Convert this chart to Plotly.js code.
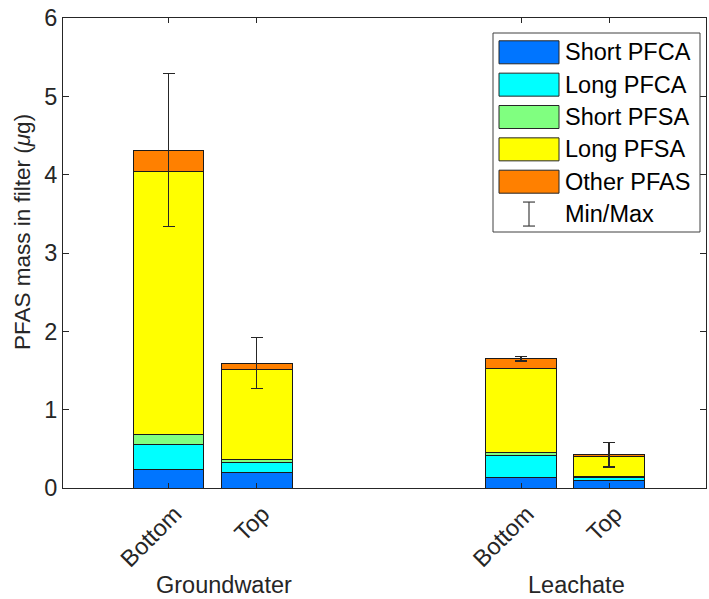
<!DOCTYPE html>
<html>
<head>
<meta charset="utf-8">
<script src="https://cdn.plot.ly/plotly-3.0.1.min.js"></script>
<style>html,body{margin:0;padding:0;background:#fff;}#chart{width:709px;height:599px;}</style>
</head>
<body>
<div id="chart"></div>
<script>
// ---- data ----
const groups = ['Groundwater', 'Groundwater', 'Leachate', 'Leachate'];
const positions = ['Bottom', 'Top', 'Bottom', 'Top'];
const groupNames = ['Groundwater', 'Leachate'];
const seriesNames = ['Short PFCA', 'Long PFCA', 'Short PFSA', 'Long PFSA', 'Other PFAS'];
const shortPFCA = [0.24, 0.20, 0.14, 0.10];
const longPFCA  = [0.32, 0.13, 0.27, 0.04];
const shortPFSA = [0.12, 0.04, 0.04, 0.01];
const longPFSA  = [3.36, 1.14, 1.08, 0.25];
const otherPFAS = [0.27, 0.08, 0.12, 0.03];
const minVals = [3.34, 1.27, 1.62, 0.27];
const maxVals = [5.29, 1.92, 1.68, 0.58];
const yTickVals = [0, 1, 2, 3, 4, 5, 6];

// ---- styling ----
const colors = ['#0075FF', '#00FFFF', '#80FF80', '#FFFF00', '#FF8000'];
const FONT = 'Liberation Sans, Arial, sans-serif';
const TXT = '#262626';
const FS = 23.5;
const W = 709, H = 599;
const M = {l: 63, r: 3, t: 18, b: 111};
const PW = W - M.l - M.r, PH = H - M.t - M.b;
const px2x = p => (p - M.l) / PW;
const py2y = p => (H - M.b - p) / PH;

// x positions: two bars per group, groups separated by a gap
const xs = groups.map((g, i) => groupNames.indexOf(g) * 4 + (positions[i] === 'Bottom' ? 1 : 2));

const series = [shortPFCA, longPFCA, shortPFSA, longPFSA, otherPFAS];
const totals = xs.map((_, i) => series.reduce((s, arr) => s + arr[i], 0));

const traces = series.map((vals, k) => {
  const t = {
    type: 'bar', x: xs, y: vals, name: seriesNames[k], width: 0.8,
    marker: {color: colors[k], line: {color: '#1a1a1a', width: 1}},
    showlegend: false, hoverinfo: 'name+y'
  };
  if (k === series.length - 1) {
    t.error_y = {
      type: 'data', symmetric: false,
      array: maxVals.map((v, i) => v - totals[i]),
      arrayminus: totals.map((v, i) => v - minVals[i]),
      color: '#262626', thickness: 1.3, width: 6
    };
  }
  return t;
});

// ---- custom legend (paper coordinates) ----
const shapes = [];
const annotations = [];
shapes.push({type: 'rect', xref: 'paper', yref: 'paper',
  x0: px2x(493), x1: px2x(700), y0: py2y(33), y1: py2y(232),
  line: {color: '#404040', width: 1}, fillcolor: '#ffffff', layer: 'above'});
const rowY0 = 52.3, rowStep = 32.35;
seriesNames.forEach((n, k) => {
  const cy = rowY0 + rowStep * k;
  shapes.push({type: 'rect', xref: 'paper', yref: 'paper',
    x0: px2x(499), x1: px2x(559), y0: py2y(cy - 11.5), y1: py2y(cy + 11.5),
    line: {color: '#262626', width: 1}, fillcolor: colors[k], layer: 'above'});
  annotations.push({xref: 'paper', yref: 'paper', x: px2x(563), y: py2y(cy),
    xanchor: 'left', yanchor: 'middle', showarrow: false, text: n,
    font: {family: FONT, size: FS, color: '#000'}});
});
{
  const cy = rowY0 + rowStep * 5;
  const cx = 529;
  const lc = {color: '#404040', width: 1.2};
  shapes.push({type: 'line', xref: 'paper', yref: 'paper', x0: px2x(cx), x1: px2x(cx), y0: py2y(cy - 12), y1: py2y(cy + 12), line: lc, layer: 'above'});
  shapes.push({type: 'line', xref: 'paper', yref: 'paper', x0: px2x(cx - 6), x1: px2x(cx + 6), y0: py2y(cy - 12), y1: py2y(cy - 12), line: lc, layer: 'above'});
  shapes.push({type: 'line', xref: 'paper', yref: 'paper', x0: px2x(cx - 6), x1: px2x(cx + 6), y0: py2y(cy + 12), y1: py2y(cy + 12), line: lc, layer: 'above'});
  annotations.push({xref: 'paper', yref: 'paper', x: px2x(563), y: py2y(cy),
    xanchor: 'left', yanchor: 'middle', showarrow: false, text: 'Min/Max',
    font: {family: FONT, size: FS, color: '#000'}});
}

// group labels under the rotated tick labels
groupNames.forEach(g => {
  const gx = xs.filter((_, i) => groups[i] === g);
  const mid = gx.reduce((a, b) => a + b, 0) / gx.length;
  annotations.push({xref: 'x', yref: 'paper', x: mid + 0.125, y: py2y(599),
    xanchor: 'center', yanchor: 'bottom', showarrow: false, text: g, borderpad: 0,
    font: {family: FONT, size: FS, color: TXT}});
});

// y-axis title
annotations.push({xref: 'paper', yref: 'paper', x: px2x(22), y: py2y(232),
  xanchor: 'center', yanchor: 'middle', showarrow: false, textangle: -90,
  text: 'PFAS mass in filter (<i>μ</i>g)',
  font: {family: FONT, size: 22.5, color: TXT}});

const axisCommon = {
  showline: true, linecolor: TXT, linewidth: 1, mirror: 'ticks',
  ticks: 'inside', tickcolor: TXT, tickwidth: 1,
  showgrid: false, zeroline: false,
  tickfont: {family: FONT, size: FS, color: TXT}
};

const layout = {
  width: W, height: H,
  margin: M,
  paper_bgcolor: '#ffffff', plot_bgcolor: '#ffffff',
  barmode: 'stack',
  showlegend: false,
  font: {family: FONT, color: TXT},
  xaxis: Object.assign({}, axisCommon, {
    range: [-0.2, 7.1], tickmode: 'array', tickvals: xs, ticktext: positions,
    tickangle: -45, ticklen: 5, automargin: false, ticklabelshift: 6, ticklabelstandoff: 2
  }),
  yaxis: Object.assign({}, axisCommon, {
    range: [0, 6], tickmode: 'array', tickvals: yTickVals, ticklen: 6, automargin: false
  }),
  shapes: shapes,
  annotations: annotations
};

Plotly.newPlot('chart', traces, layout, {displayModeBar: false, staticPlot: true});
</script>
</body>
</html>
